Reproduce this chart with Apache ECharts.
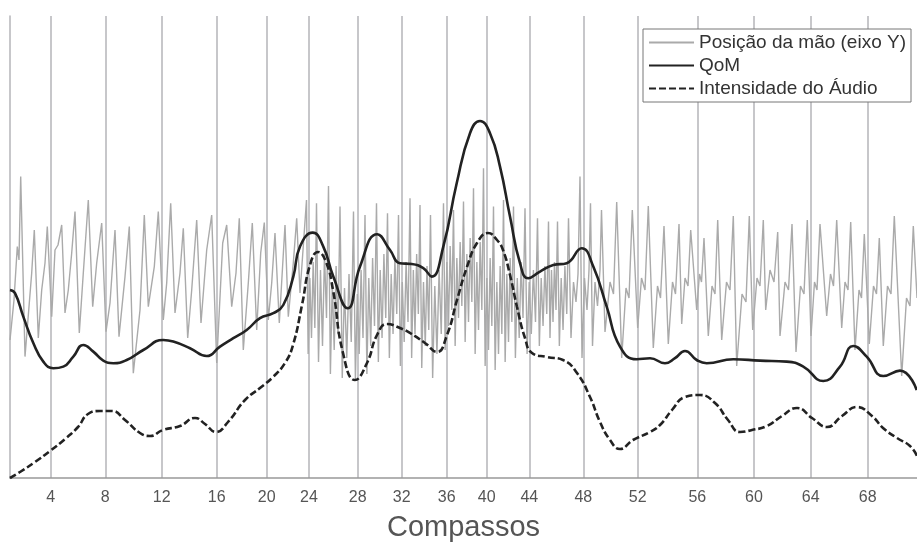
<!DOCTYPE html>
<html>
<head>
<meta charset="utf-8">
<script src="https://cdn.jsdelivr.net/npm/echarts@6/dist/echarts.min.js"></script>
<style>html,body{margin:0;padding:0;background:#fff}#c{width:917px;height:543px}</style>
</head>
<body>
<div id="c"></div>
<script>
// Bar (compasso) labels and their time positions (s)
const barNumbers = [4,8,12,16,20,24,28,32,36,40,44,48,52,56,60,64,68];
const barTimes = [8.14,19.06,30.34,41.34,51.34,59.8,69.54,78.34,87.34,95.34,103.86,114.66,125.54,137.46,148.8,160.14,171.54];

// Hand position (Y axis), [time, value]
const handPosition = [
[0,69],[0.8,89],[1.46,115.7],[1.8,109],[2.14,150.7],[3,60.7],[4.34,102.5],[4.86,124],[5.66,70],[6.34,94],[7,107.5],[7.46,125.7],
[8.34,80.7],[9,114],[9.6,116.5],[10.34,126.5],[11,82.5],[11.66,94],[12.34,112.5],[13,133.2],[13.86,72.5],[14.66,102.5],[15.66,139],
[16.54,85.7],[17.34,107.5],[18.34,127.5],[19.2,73.2],[20,87.5],[21,124],[21.8,70.7],[23,100.7],[23.86,125.7],[24.66,52.4],[26,84],
[26.86,131.5],[27.66,85.7],[28.86,105.7],[29.66,133.2],[30.66,79],[31.34,97.5],[32.14,137.4],[33,82.5],[34,102.5],[34.66,124.9],
[35.54,70],[36.34,94],[37.34,129],[38.2,77.5],[39.34,114],[40.34,131.5],[41.34,57.5],[42.54,117.5],[43.34,126.5],[44.34,85.7],
[45.2,102.5],[45.86,129.9],[46.66,64],[47.66,97.5],[48.46,127.5],[49.34,74],[50.14,112.5],[50.86,127.7],[51.66,79],[52.34,97.5],
[53,122.5],[53.86,77.5],[55,126.5],[55.66,80.7],[56.66,107.5],[57.34,129.9],[58,92.5],
[59.3,139],[59.63,62],[59.97,100],[60.3,70],[60.63,108],[60.97,75],
[61.3,137.4],[61.7,58],[62.1,104],[62.5,66],[62.9,112],[63.3,80],
[63.7,146],[64.08,52],[64.46,98],[64.84,64],[65.22,106],[65.6,72],
[66,135.7],[66.45,50],[66.9,95],[67.35,60],[67.8,102],[68.25,68],
[68.7,133.2],[69.08,49],[69.46,92],[69.84,62],[70.22,104],[70.6,70],
[71,131.5],[71.38,52],[71.76,100],[72.14,66],[72.52,110],[72.9,76],
[73.3,137.4],[73.67,58],[74.04,104],[74.41,70],[74.78,112],[75.15,80],
[75.5,132.4],[75.87,60],[76.24,102],[76.61,72],[76.98,110],[77.35,82],
[77.7,131.5],[78.08,56],[78.46,98],[78.84,68],[79.22,108],[79.6,78],
[80,139.9],[80.33,60],[80.67,104],[81,72],[81.33,112],[81.67,82],
[82,136.5],[82.35,55],[82.7,98],[83.05,66],[83.4,106],[83.75,74],
[84.1,131.5],[84.53,50],[84.96,96],[85.39,62],[85.82,104],[86.25,72],
[86.7,137.4],[87.03,64],[87.37,108],[87.7,76],[88.03,116],[88.37,84],
[88.7,134],[89.03,66],[89.37,110],[89.7,80],[90.03,118],[90.37,86],
[90.7,138.2],[91.03,68],[91.37,112],[91.7,78],[92.03,120],[92.37,88],
[92.7,144.9],[93.03,62],[93.37,108],[93.7,74],[94.03,118],[94.37,84],
[94.7,154.9],[95.03,56],[95.37,100],[95.7,64],[96.03,110],[96.37,76],
[96.7,135.7],[97.03,54],[97.37,98],[97.7,62],[98.03,106],[98.37,72],
[98.7,139],[99.03,58],[99.37,102],[99.7,68],[100.03,110],[100.37,78],
[100.7,135.7],[101.08,60],[101.46,100],[101.84,70],[102.22,108],[102.6,80],
[103,134.9],[103.42,62],[103.84,98],[104.26,72],[104.68,104],[105.1,78],
[105.5,129.9],[105.87,66],[106.24,100],[106.61,76],[106.98,106],[107.35,82],
[107.7,128.2],[108,70],[108.3,104],[108.6,78],[108.9,108],[109.2,84],
[109.5,128.2],[109.87,66],[110.24,100],[110.61,74],[110.98,106],[111.35,82],
[111.7,129.9],[112.2,70],[112.7,98],[113.2,88],[113.6,102],
[114,150.7],[114.4,60],[114.9,100],[115.4,84],[115.8,104],
[116.1,137.4],[116.5,66],[117,98],[117.5,86],[118,104],
[118.3,134],[119,73],[120,98],[120.7,92],[121.34,138],
[122.34,60],[123.2,95],[123.8,90],[124.46,134],
[125.54,75],[126.3,100],[127,94],[127.66,136],
[128.66,65],[129.5,96],[130.1,90],[130.8,126],
[131.66,67],[132.5,98],[133.1,92],[133.8,127],
[134.34,77],[135,100],[135.6,96],[136.14,124],
[137.34,84],[137.9,102],[138.3,98],[138.8,120],
[139.66,71],[140.4,96],[141,92],[141.54,129],
[142.34,69],[143.3,98],[144,94],[144.66,131],
[145.34,56],[146.4,92],[147.2,88],[147.86,131],
[148.54,74],[149.4,100],[150,96],[150.66,129],
[151.14,84],[152,104],[152.8,98],[153.54,123],
[154,71],[155,98],[155.7,94],[156.4,127],
[157.2,63],[158.1,96],[158.8,92],[159.46,129],
[160.2,71],[160.9,98],[161.4,94],[162,127],
[163.34,81],[164.1,102],[164.7,96],[165.34,129],
[166.34,75],[167,98],[167.6,94],[168.14,128],
[169,64],[169.8,94],[170.3,90],[170.86,122],
[171.86,67],[172.7,96],[173.3,92],[173.86,120],
[174.66,66],[175.5,96],[176.2,92],[176.86,131],
[178.34,51],[179.3,90],[180,86],[180.66,126],
[181.4,90]
];

// Quantity of Motion
const qom = [
[0,94],[1,92.4],[2.66,80.7],[4.66,67.5],[6.66,58.2],[8.66,54.9],[10.66,55.7],[12.66,60.7],[14.66,66.5],[16.66,63.2],
[18.66,58.7],[20.66,57.4],[23.34,59],[26.66,64],[30.66,69],[32.66,68.2],[36,64.9],[39.34,61],[42,65.7],[44.66,69.9],
[47.34,74],[50,79.9],[52.66,82.4],[54.66,86.5],[56.66,100.7],[58,115.7],[60.54,122.7],[62.66,115.7],[64.66,100.7],
[67.54,84.9],[70,105.7],[73.46,121.9],[76,114],[78,107.4],[80.34,107],[82.66,104.9],[84.34,100.7],[86.66,115.7],
[89.34,147.4],[92,172.4],[94,178.5],[96,172.4],[98,155.7],[100,130.7],[102,107.4],[103.66,99.9],[106,103.2],
[108.66,106.5],[111.34,107.4],[114.34,114.9],[116.66,105.7],[119.34,85.7],[122,65.7],[125.34,59.4],[128,59.9],
[131,57.4],[133,59.9],[135,63.5],[137.34,59],[139.34,57.4],[144.66,59.4],[150,58.7],[155.34,58.2],[158.66,55.7],
[162.66,48.5],[166,55.7],[168.66,66],[171.34,60.7],[174.66,51],[178,53.7],[181.34,44]
];

// Audio intensity
const audio = [
[0,0],[2,3],[5,8],[8,13.5],[11,19.5],[13.6,25.5],[15.6,32],[18,33.5],[20.4,33.5],[23,29],[26,22.5],[28,21],[30.6,24],
[34,26],[37,30],[39,27],[41.2,23],[43.6,28],[47,39],[50,45],[52.6,50.5],[55,57.5],[56.6,66.5],[58.4,86.5],[60,106.5],
[61.6,113],[63.2,108],[64.6,94],[66.6,62.5],[69,49],[71.4,57.5],[73.4,71.5],[75.4,77],[78,75],[80,72.5],[83,67.5],
[85.4,63],[87.4,71.5],[89.4,89],[91.4,105.5],[93.4,117.5],[95.6,122.5],[97.4,119],[98.6,114],[100,101.5],[101.4,85.5],
[103,70],[104.4,62.5],[107.4,60.5],[110.6,59],[113.4,52.5],[116,40.5],[118,28],[120,19],[122,14.5],[124.6,19],[128,23],
[130,26.5],[132.4,34],[135,40.5],[138,41.5],[141,37.5],[143.6,29],[146,23],[148.4,24],[151.4,26],[154.4,31],[157.4,35],
[160.4,30],[163.4,25.5],[166.4,31],[169.4,35.5],[172.4,31],[174.6,25],[177.4,20],[180,16],[181.4,11]
];

const seriesNames = ['Posição da mão (eixo Y)', 'QoM', 'Intensidade do Áudio'];
const FONT = "'Liberation Sans', Arial, Helvetica, sans-serif";

const chart = echarts.init(document.getElementById('c'), null, {renderer: 'canvas'});
chart.setOption({
  animation: false,
  backgroundColor: '#fff',
  textStyle: {fontFamily: FONT},
  grid: {left: 10, right: 0, top: 16, bottom: 65, containLabel: false, outerBoundsMode: 'none'},
  legend: {
    orient: 'vertical', right: 6, top: 29,
    padding: [4, 5, 4, 5], itemGap: 4, itemWidth: 45, itemHeight: 14,
    backgroundColor: '#fff', borderColor: '#777', borderWidth: 1, borderRadius: 0,
    itemStyle: {opacity: 0, borderWidth: 0},
    textStyle: {fontSize: 19, color: '#333', fontFamily: FONT},
    data: seriesNames
  },
  xAxis: {
    type: 'value', min: 0, max: 181.4,
    name: 'Compassos', nameLocation: 'middle', nameGap: 35,
    nameTextStyle: {fontSize: 29, color: '#555', fontFamily: FONT},
    axisLine: {show: true, lineStyle: {color: '#999', width: 1.5}},
    axisTick: {show: false, customValues: barTimes},
    axisLabel: {
      customValues: barTimes, fontSize: 16, color: '#555', margin: 12, fontFamily: FONT,
      formatter: function (v) {
        const i = barTimes.findIndex(b => Math.abs(b - v) < 1e-6);
        return i >= 0 ? String(barNumbers[i]) : '';
      }
    },
    splitLine: {show: true, lineStyle: {color: '#b4b4b8', width: 1.5}}
  },
  yAxis: {
    type: 'value', min: 0, max: 231,
    axisLine: {show: true, lineStyle: {color: '#b4b4b8', width: 1.5}},
    axisTick: {show: false}, axisLabel: {show: false}, splitLine: {show: false}
  },
  series: [
    {name: seriesNames[0], type: 'line', data: handPosition, symbol: 'none', smooth: false,
     lineStyle: {color: '#aaaaaa', width: 1.4}, itemStyle: {color: '#aaaaaa'}, z: 2},
    {name: seriesNames[1], type: 'line', data: qom, symbol: 'none', smooth: 0.5,
     lineStyle: {color: '#222', width: 2.6}, itemStyle: {color: '#222'}, z: 3},
    {name: seriesNames[2], type: 'line', data: audio, symbol: 'none', smooth: 0.5,
     lineStyle: {color: '#222', width: 2.6, type: [7, 3]}, itemStyle: {color: '#222'}, z: 3}
  ]
});
</script>
</body>
</html>
